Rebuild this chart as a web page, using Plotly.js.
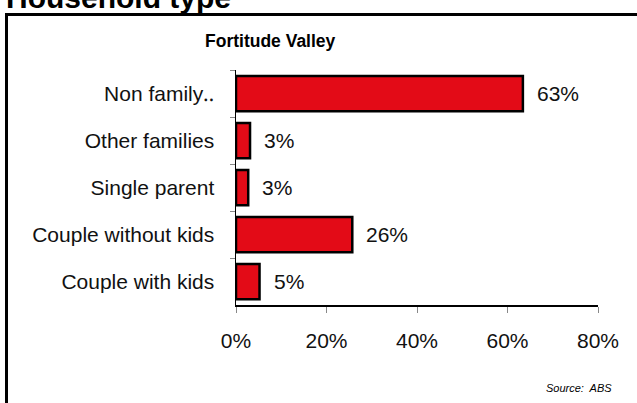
<!DOCTYPE html>
<html>
<head>
<meta charset="utf-8">
<script src="https://cdn.plot.ly/plotly-3.0.1.min.js"></script>
<style>html,body{margin:0;padding:0;background:#fff;}#chart{width:637px;height:403px;}</style>
</head>
<body>
<div id="chart"></div>
<script>
// Data (top to bottom)
const categories = ["Non family‥", "Other families", "Single parent", "Couple without kids", "Couple with kids"];
const shares = [63.4, 3.1, 2.7, 25.7, 5.2];
const xTickVals = [0, 20, 40, 60, 80];
const xTickText = ["0%", "20%", "40%", "60%", "80%"];
const chartTitle = "Fortitude Valley";
const pageTitle = "Household type";
const sourceNote = "Source:  ABS";

const W = 637, H = 403;
const M = {l: 236, r: 39, t: 70, b: 98};
const PW = W - M.l - M.r, PH = H - M.t - M.b;
const px = x => (x - M.l) / PW;
const py = y => 1 - (y - M.t) / PH;

const FONT = "Liberation Sans, Arial, sans-serif";

const trace = {
  type: "bar",
  orientation: "h",
  y: categories,
  x: shares,
  marker: {color: "#E30B17", line: {color: "#000", width: 2.5}},
  hoverinfo: "skip"
};

const valueLabels = categories.map((c, i) => ({
  x: shares[i], y: c, xref: "x", yref: "y",
  text: Math.round(shares[i]) + "%",
  showarrow: false, xanchor: "left", xshift: 12,
  font: {family: FONT, size: 21, color: "#111"}
}));

const layout = {
  width: W, height: H,
  margin: M,
  paper_bgcolor: "#fff", plot_bgcolor: "#fff",
  showlegend: false,
  bargap: 0.25,
  font: {family: FONT, size: 21, color: "#111"},
  xaxis: {
    range: [0, 80], tickvals: xTickVals, ticktext: xTickText,
    showgrid: false, zeroline: false,
    showline: true, linecolor: "#000", linewidth: 1.5,
    ticks: "outside", ticklen: 6, tickcolor: "#888", tickwidth: 1,
    ticklabelstandoff: 10,
    tickfont: {family: FONT, size: 21, color: "#111"},
    fixedrange: true
  },
  yaxis: {
    type: "category", autorange: "reversed",
    showgrid: false, zeroline: false,
    showline: true, linecolor: "#000", linewidth: 1.5,
    ticks: "outside", ticklen: 5, tickcolor: "#888", tickwidth: 1,
    tickson: "boundaries",
    ticklabelstandoff: 16,
    tickfont: {family: FONT, size: 21, color: "#111"},
    fixedrange: true
  },
  shapes: [
    {type: "line", xref: "paper", yref: "paper", x0: px(6.5), x1: px(6.5), y0: py(13), y1: py(410), line: {color: "#000", width: 3}},
    {type: "line", xref: "paper", yref: "paper", x0: px(5), x1: px(645), y0: py(14.5), y1: py(14.5), line: {color: "#000", width: 3}}
  ],
  annotations: valueLabels.concat([
    {xref: "paper", yref: "paper", x: px(270), y: py(41), text: "<b>" + chartTitle + "</b>",
     showarrow: false, xanchor: "center", yanchor: "middle",
     font: {family: FONT, size: 17.5, color: "#000"}},
    {xref: "paper", yref: "paper", x: px(4), y: py(16), text: "<b>" + pageTitle + "</b>",
     showarrow: false, xanchor: "left", yanchor: "bottom",
     font: {family: FONT, size: 30, color: "#000"}},
    {xref: "paper", yref: "paper", x: px(614), y: py(388), text: "<i>" + sourceNote + "</i>",
     showarrow: false, xanchor: "right", yanchor: "middle",
     font: {family: FONT, size: 11, color: "#000"}}
  ])
};

Plotly.newPlot("chart", [trace], layout, {displayModeBar: false, staticPlot: true});
</script>
</body>
</html>
